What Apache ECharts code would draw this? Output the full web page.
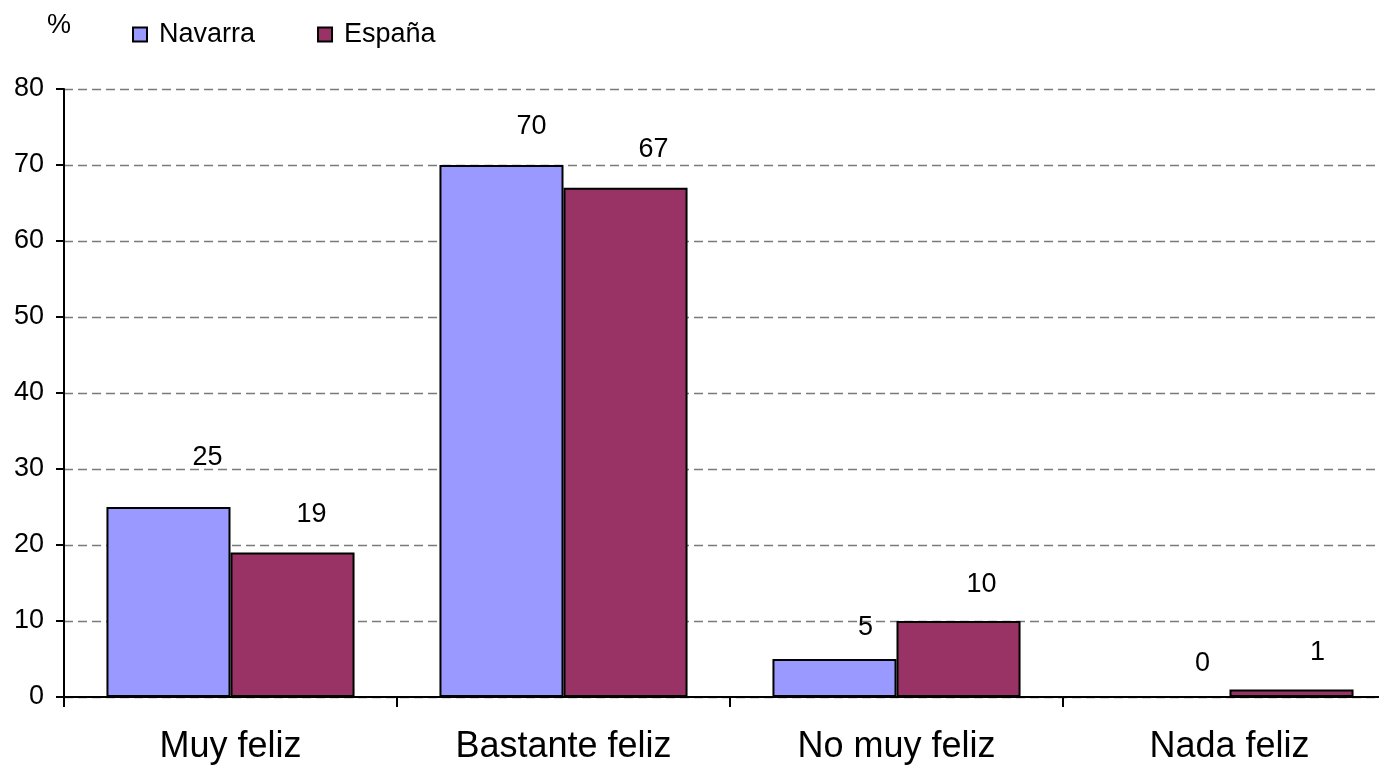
<!DOCTYPE html>
<html>
<head>
<meta charset="utf-8">
<title>Felicidad: Navarra / España</title>
<script src="https://cdn.jsdelivr.net/npm/echarts@6/dist/echarts.min.js"></script>
<style>
  html, body { margin: 0; padding: 0; background: #fff; overflow: hidden; }
  /* el área del gráfico sigue más allá del borde derecho, como en el original */
  #chart { width: 1396px; height: 767px; }
</style>
</head>
<body>
<div id="chart"></div>
<script>
// datos del gráfico
const categories = ['Muy feliz', 'Bastante feliz', 'No muy feliz', 'Nada feliz']
const navarra = [25, 70, 5, 0]
const espana = [19, 67, 10, 1]
const yTicks = [0, 10, 20, 30, 40, 50, 60, 70, 80]

// desplazamiento de las etiquetas (como en el original)
const navarraLabelOffset = [[39, -31], [30, -20], [31, -13], [35, -14]]
const espanaLabelOffset = [[19, -20], [28, -20], [23, -18], [26, -18]]

const FONT = 'Liberation Sans, Arial, sans-serif'

function withLabels(values, offsets) {
  return values.map((value, i) => ({
    value,
    label: { offset: offsets[i] },
  }))
}

const chart = echarts.init(document.getElementById('chart'))

chart.setOption({
  animation: false,
  textStyle: { fontFamily: FONT },
  title: {
    text: '%',
    left: 42,
    top: 7,
    textStyle: { fontSize: 27, fontWeight: 'normal', color: '#000', fontFamily: FONT },
  },
  legend: {
    left: 127,
    top: 16,
    itemWidth: 14,
    itemHeight: 14,
    itemGap: 62,
    icon: 'rect',
    itemStyle: { borderColor: '#000', borderWidth: 2 },
    textStyle: { fontSize: 27, color: '#000', padding: [0, 0, 0, 7], fontFamily: FONT },
    data: ['Navarra', 'España'],
  },
  grid: { left: 64, right: 0, top: 89, bottom: 70, containLabel: false },
  xAxis: {
    type: 'category',
    data: categories,
    axisLine: { lineStyle: { color: '#000', width: 2 } },
    axisTick: { show: true, length: 10, lineStyle: { color: '#000', width: 2 } },
    axisLabel: { fontSize: 36, color: '#000', margin: 32, fontFamily: FONT },
  },
  yAxis: {
    type: 'value',
    min: yTicks[0],
    max: yTicks[yTicks.length - 1],
    interval: 10,
    axisLine: { show: true, lineStyle: { color: '#000', width: 2 } },
    axisTick: { show: true, length: 8, lineStyle: { color: '#000', width: 2 } },
    axisLabel: { fontSize: 27, color: '#000', margin: 20, fontFamily: FONT },
    splitLine: { lineStyle: { color: '#7a7a7a', width: 1.3, type: [9, 5] } },
  },
  series: [
    {
      name: 'Navarra',
      type: 'bar',
      data: withLabels(navarra, navarraLabelOffset),
      barGap: '0%',
      barCategoryGap: '25.5%',
      itemStyle: { color: '#9999ff', borderColor: '#000', borderWidth: 2 },
      label: { show: true, position: 'top', fontSize: 27, color: '#000', fontFamily: FONT },
    },
    {
      name: 'España',
      type: 'bar',
      data: withLabels(espana, espanaLabelOffset),
      barGap: '0%',
      barCategoryGap: '25.5%',
      itemStyle: { color: '#993366', borderColor: '#000', borderWidth: 2 },
      label: { show: true, position: 'top', fontSize: 27, color: '#000', fontFamily: FONT },
    },
  ],
})

window.addEventListener('resize', () => chart.resize())
</script>
</body>
</html>
